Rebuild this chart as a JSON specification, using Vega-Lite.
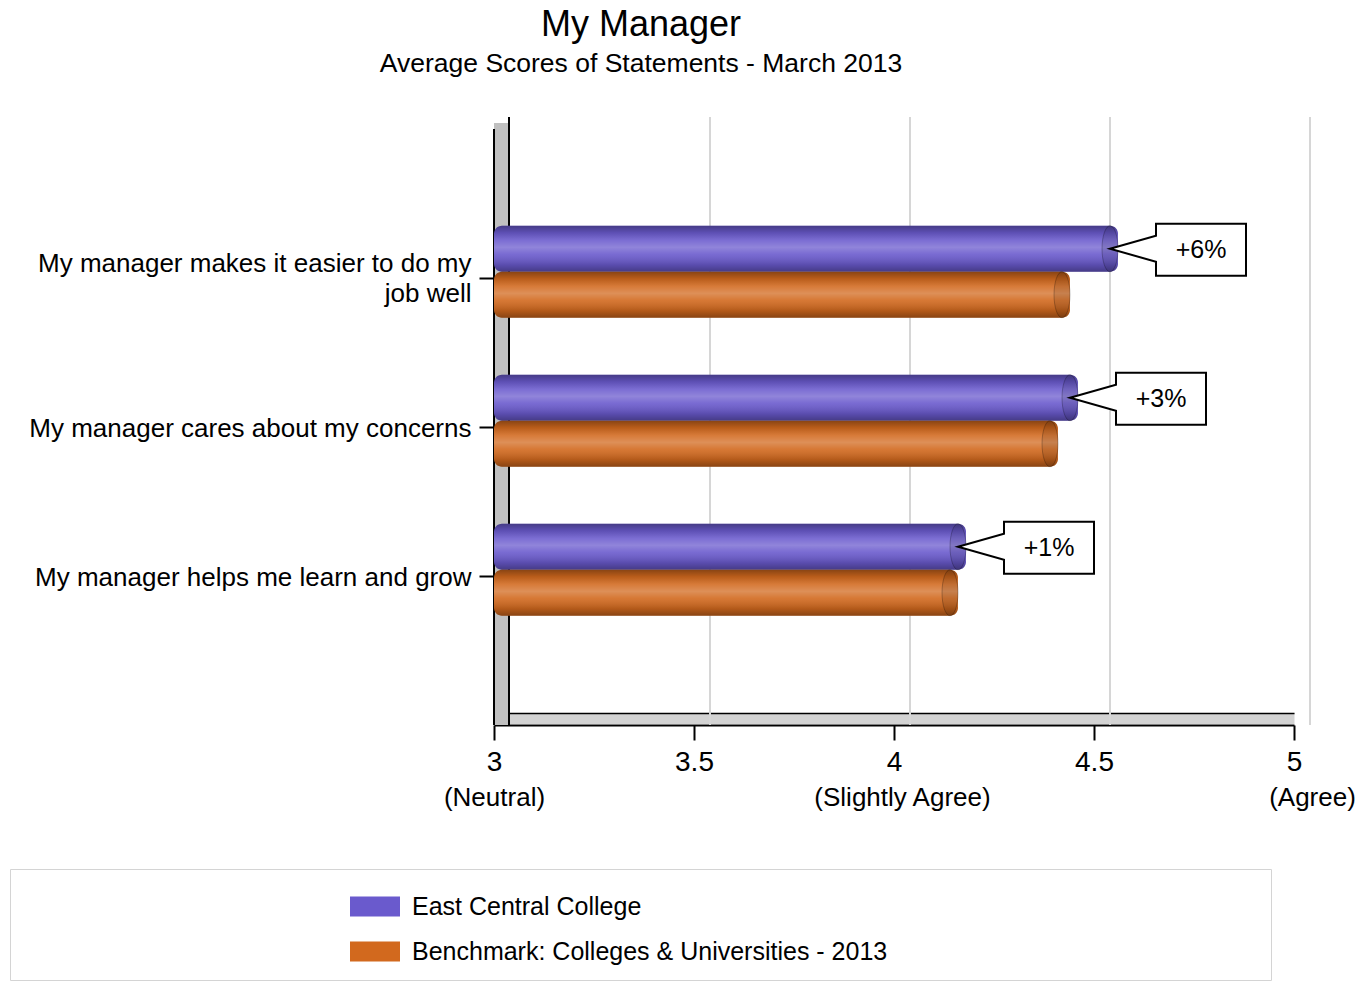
{
  "$schema": "https://vega.github.io/schema/vega-lite/v6.json",
  "width": 800,
  "height": 596,
  "autosize": "none",
  "padding": {"left": 494, "top": 129, "right": 66, "bottom": 262},
  "background": "white",
  "config": {
    "font": "Liberation Sans",
    "view": {"stroke": null},
    "axisY": {
      "title": null, "domain": false, "grid": false, "ticks": true, "tickSize": 15, "tickWidth": 2, "tickColor": "black",
      "labelFontSize": 26, "labelColor": "black", "labelPadding": 8, "labelLimit": 800, "labelLineHeight": 30
    }
  },
  "title": {
    "text": "My Manager",
    "subtitle": "Average Scores of Statements - March 2013",
    "anchor": "middle",
    "frame": "group",
    "dx": -253,
    "offset": 37,
    "fontSize": 36,
    "fontWeight": "normal",
    "color": "black",
    "font": "Liberation Sans",
    "subtitleFont": "Liberation Sans",
    "subtitleFontSize": 26.5,
    "subtitleColor": "black",
    "subtitlePadding": 7
  },
  "data": {
    "values": [
      {"statement": "My manager makes it easier to do my job well", "series": "East Central College", "score": 4.56, "change": "+6%"},
      {"statement": "My manager makes it easier to do my job well", "series": "Benchmark: Colleges & Universities - 2013", "score": 4.44, "change": ""},
      {"statement": "My manager cares about my concerns", "series": "East Central College", "score": 4.46, "change": "+3%"},
      {"statement": "My manager cares about my concerns", "series": "Benchmark: Colleges & Universities - 2013", "score": 4.41, "change": ""},
      {"statement": "My manager helps me learn and grow", "series": "East Central College", "score": 4.18, "change": "+1%"},
      {"statement": "My manager helps me learn and grow", "series": "Benchmark: Colleges & Universities - 2013", "score": 4.16, "change": ""}
    ]
  },
  "resolve": {"axis": {"x": "independent"}},
  "layer": [
    {
      "data": {"values": [{"tick": 3.5}, {"tick": 4}, {"tick": 4.5}, {"tick": 5}]},
      "mark": {"type": "rule", "color": "#d6d6d6", "strokeWidth": 2, "xOffset": 16, "yOffset": -12, "y2Offset": -12},
      "encoding": {
        "x": {
          "field": "tick", "type": "quantitative",
          "scale": {"domain": [3, 5], "zero": false, "nice": false},
          "axis": {
            "orient": "bottom", "values": [3, 4, 5], "offset": -7, "domain": true, "domainColor": "#d3d3d3", "domainWidth": 11,
            "ticks": false, "grid": false, "title": null,
            "labelExpr": "datum.value == 3 ? '(Neutral)' : datum.value == 4 ? '(Slightly Agree)' : datum.value == 5 ? '(Agree)' : ''",
            "labelFontSize": 26, "labelColor": "black", "labelPadding": 66,
            "labelOffset": {"condition": [{"test": "datum.value == 4", "value": 8}, {"test": "datum.value == 5", "value": 18}], "value": 0},
            "labelFlush": false, "labelOverlap": false, "labelBound": false
          }
        }
      }
    },
    {
      "data": {"values": [{}]},
      "mark": {"type": "rule", "color": "#c0c0c0", "strokeWidth": 15, "xOffset": 7.5, "yOffset": -6, "y2Offset": -6},
      "encoding": {"x": {"datum": 3, "type": "quantitative", "scale": {"domain": [3, 5], "zero": false, "nice": false}, "axis": null}}
    },
    {
      "data": {"values": [{}]},
      "mark": {"type": "rule", "color": "black", "strokeWidth": 2},
      "encoding": {"x": {"datum": 3, "type": "quantitative", "scale": {"domain": [3, 5], "zero": false, "nice": false}, "axis": null}}
    },
    {
      "data": {"values": [{}]},
      "mark": {"type": "rule", "color": "black", "strokeWidth": 2, "xOffset": 15, "yOffset": -12, "y2Offset": -12},
      "encoding": {"x": {"datum": 3, "type": "quantitative", "scale": {"domain": [3, 5], "zero": false, "nice": false}, "axis": null}}
    },
    {
      "mark": {"type": "bar", "cornerRadius": 8},
      "encoding": {
        "y": {
          "field": "statement", "type": "nominal",
          "sort": ["My manager makes it easier to do my job well", "My manager cares about my concerns", "My manager helps me learn and grow"],
          "scale": {"paddingInner": 0, "paddingOuter": 0.5},
          "axis": {
            "labelExpr": "datum.value == 'My manager makes it easier to do my job well' ? ['My manager makes it easier to do my', 'job well'] : datum.label",
            "labelOffset": {"condition": {"test": "datum.value == 'My manager makes it easier to do my job well'", "value": -14}, "value": 2}
          }
        },
        "yOffset": {
          "field": "series", "type": "nominal",
          "sort": ["East Central College", "Benchmark: Colleges & Universities - 2013"],
          "scale": {"paddingInner": 0, "paddingOuter": 0.62, "align": 0.39}
        },
        "x": {
          "field": "score", "type": "quantitative",
          "scale": {"domain": [3, 5], "zero": false, "nice": false},
          "axis": {
            "orient": "bottom", "values": [3, 3.5, 4, 4.5, 5], "format": "~g", "offset": 0,
            "domain": true, "domainColor": "black", "domainWidth": 2,
            "ticks": true, "tickSize": 15, "tickWidth": 2, "tickColor": "black", "grid": false, "title": null,
            "labelFontSize": 28, "labelColor": "black", "labelPadding": 8,
            "labelFlush": false, "labelOverlap": false, "labelBound": false
          }
        },
        "x2": {"datum": 3},
        "color": {
          "field": "series", "type": "nominal",
          "scale": {"domain": ["East Central College", "Benchmark: Colleges & Universities - 2013"], "range": ["#6a5acd", "#d2691e"]},
          "legend": {
            "orient": "none", "legendX": -484, "legendY": 740, "direction": "vertical",
            "title": "\u00a0", "titleOrient": "left", "titlePadding": 327.5, "titleFontSize": 11,
            "padding": 15, "strokeColor": "#d4d4d4", "fillColor": "white",
            "symbolType": "M-1.111,-0.444L1.111,-0.444L1.111,0.444L-1.111,0.444Z", "symbolSize": 2025, "symbolStrokeWidth": 0, "symbolOpacity": 1,
            "labelFontSize": 25, "labelColor": "black", "labelOffset": 14.5, "labelLimit": 1400, "rowPadding": 9,
            "labelExpr": "datum.label + '\u00a0\u00a0\u00a0\u00a0\u00a0\u00a0\u00a0\u00a0\u00a0\u00a0\u00a0\u00a0\u00a0\u00a0\u00a0\u00a0\u00a0\u00a0\u00a0\u00a0\u00a0\u00a0\u00a0\u00a0\u00a0\u00a0\u00a0\u00a0\u00a0\u00a0\u00a0\u00a0\u00a0\u00a0\u00a0\u00a0\u00a0\u00a0\u00a0\u00a0\u00a0\u00a0\u00a0\u00a0\u00a0\u00a0\u00a0\u00a0\u00a0\u00a0\u00a0\u00a0\u00a0\u200b'"
          }
        }
      }
    },
    {
      "mark": {
        "type": "bar", "cornerRadius": 8,
        "color": {
          "gradient": "linear", "x1": 0, "y1": 0, "x2": 0, "y2": 1,
          "stops": [
            {"offset": 0, "color": "rgba(0,0,0,0.35)"},
            {"offset": 0.15, "color": "rgba(0,0,0,0.12)"},
            {"offset": 0.32, "color": "rgba(255,255,255,0.12)"},
            {"offset": 0.47, "color": "rgba(255,255,255,0.26)"},
            {"offset": 0.62, "color": "rgba(255,255,255,0.1)"},
            {"offset": 0.85, "color": "rgba(0,0,0,0.15)"},
            {"offset": 1, "color": "rgba(0,0,0,0.35)"}
          ]
        }
      },
      "encoding": {
        "y": {"field": "statement", "type": "nominal", "sort": ["My manager makes it easier to do my job well", "My manager cares about my concerns", "My manager helps me learn and grow"],
          "axis": {"labelExpr": "datum.value == 'My manager makes it easier to do my job well' ? ['My manager makes it easier to do my', 'job well'] : datum.label",
            "labelOffset": {"condition": {"test": "datum.value == 'My manager makes it easier to do my job well'", "value": -14}, "value": 2}}},
        "yOffset": {"field": "series", "type": "nominal", "sort": ["East Central College", "Benchmark: Colleges & Universities - 2013"]},
        "x": {
          "field": "score", "type": "quantitative",
          "scale": {"domain": [3, 5], "zero": false, "nice": false},
          "axis": {"orient": "bottom", "offset": -12, "domain": true, "domainColor": "black", "domainWidth": 1.5, "ticks": false, "labels": false, "grid": false, "title": null}
        },
        "x2": {"datum": 3}
      }
    },
    {
      "mark": {"type": "point", "shape": "M-8,-23A8,23 0 1,1 -8,23A8,23 0 1,1 -8,-23Z", "size": 4, "filled": true, "fill": "black", "fillOpacity": 0.1, "stroke": "black", "strokeOpacity": 0.25, "strokeWidth": 1, "opacity": 1},
      "encoding": {
        "y": {"field": "statement", "type": "nominal", "sort": ["My manager makes it easier to do my job well", "My manager cares about my concerns", "My manager helps me learn and grow"],
          "axis": {"labelExpr": "datum.value == 'My manager makes it easier to do my job well' ? ['My manager makes it easier to do my', 'job well'] : datum.label",
            "labelOffset": {"condition": {"test": "datum.value == 'My manager makes it easier to do my job well'", "value": -14}, "value": 2}}},
        "yOffset": {"field": "series", "type": "nominal", "sort": ["East Central College", "Benchmark: Colleges & Universities - 2013"]},
        "x": {"field": "score", "type": "quantitative", "scale": {"domain": [3, 5], "zero": false, "nice": false}, "axis": null}
      }
    },
    {
      "transform": [{"filter": "datum.series == 'East Central College'"}],
      "mark": {"type": "point", "shape": "M-8,0L38,-13L38,-25L128,-25L128,27L38,27L38,13Z", "size": 4, "filled": true, "fill": "white", "stroke": "black", "strokeWidth": 2, "opacity": 1},
      "encoding": {
        "y": {"field": "statement", "type": "nominal", "sort": ["My manager makes it easier to do my job well", "My manager cares about my concerns", "My manager helps me learn and grow"],
          "axis": {"labelExpr": "datum.value == 'My manager makes it easier to do my job well' ? ['My manager makes it easier to do my', 'job well'] : datum.label",
            "labelOffset": {"condition": {"test": "datum.value == 'My manager makes it easier to do my job well'", "value": -14}, "value": 2}}},
        "yOffset": {"field": "series", "type": "nominal", "sort": ["East Central College", "Benchmark: Colleges & Universities - 2013"]},
        "x": {"field": "score", "type": "quantitative", "scale": {"domain": [3, 5], "zero": false, "nice": false}, "axis": null}
      }
    },
    {
      "transform": [{"filter": "datum.series == 'East Central College'"}],
      "mark": {"type": "text", "dx": 83, "dy": 1, "fontSize": 25, "align": "center", "baseline": "middle", "color": "black"},
      "encoding": {
        "y": {"field": "statement", "type": "nominal", "sort": ["My manager makes it easier to do my job well", "My manager cares about my concerns", "My manager helps me learn and grow"],
          "axis": {"labelExpr": "datum.value == 'My manager makes it easier to do my job well' ? ['My manager makes it easier to do my', 'job well'] : datum.label",
            "labelOffset": {"condition": {"test": "datum.value == 'My manager makes it easier to do my job well'", "value": -14}, "value": 2}}},
        "yOffset": {"field": "series", "type": "nominal", "sort": ["East Central College", "Benchmark: Colleges & Universities - 2013"]},
        "x": {"field": "score", "type": "quantitative", "scale": {"domain": [3, 5], "zero": false, "nice": false}, "axis": null},
        "text": {"field": "change"}
      }
    }
  ]
}
